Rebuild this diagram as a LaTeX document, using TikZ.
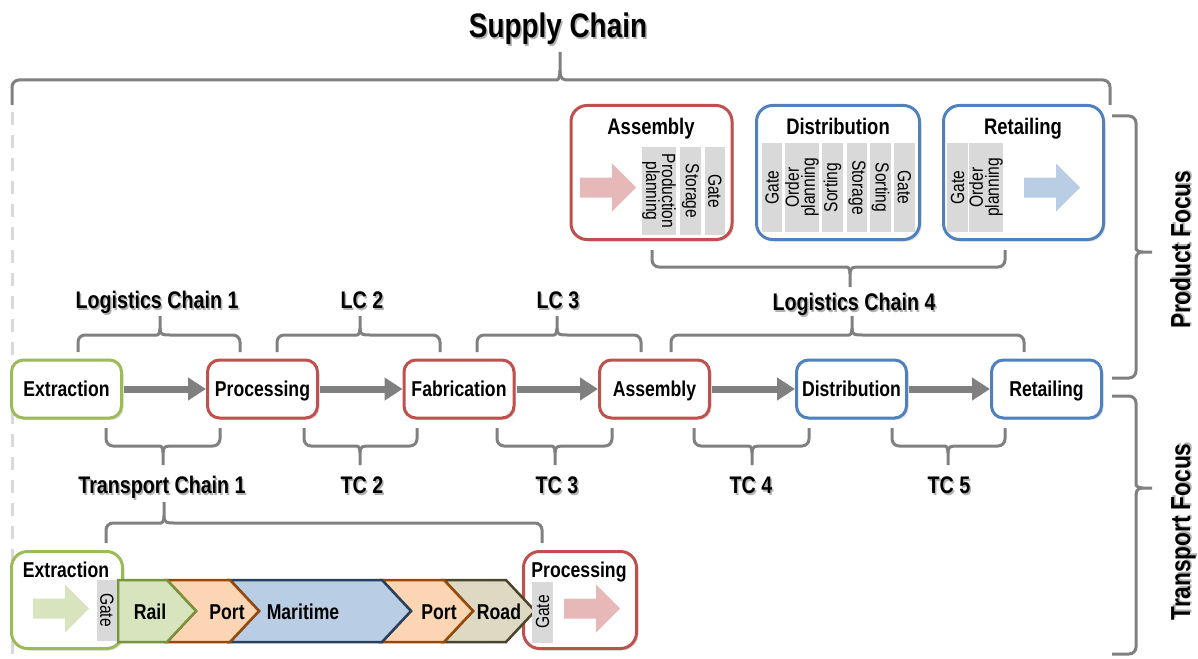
\documentclass[tikz,border=0pt]{standalone}
\usepackage{fontspec}
\setmainfont{Liberation Sans}[FakeStretch=0.82]
\usetikzlibrary{arrows.meta,shadows}

\definecolor{redline}{HTML}{C0504D}
\definecolor{greenline}{HTML}{9BBB59}
\definecolor{blueline}{HTML}{4F81BD}
\definecolor{stripgray}{HTML}{D9D9D9}
\definecolor{bracegray}{HTML}{808080}
\definecolor{pinkfill}{HTML}{E6B9B8}
\definecolor{greenfill}{HTML}{D7E4BD}
\definecolor{bluefill}{HTML}{B9CDE5}
\definecolor{railline}{HTML}{77933C}
\definecolor{portfill}{HTML}{FCD5B5}
\definecolor{portline}{HTML}{984807}
\definecolor{sealine}{HTML}{254061}
\definecolor{roadfill}{HTML}{DDD9C3}
\definecolor{roadline}{HTML}{4A452A}

\tikzset{
  boxshadow/.style={drop shadow={opacity=0.25,shadow xshift=2pt,shadow yshift=-2pt}},
  stage/.style={draw,line width=3pt,fill=white,rounded corners=12pt,
    minimum width=110pt,minimum height=58pt,boxshadow,
    text height=15.5pt,text depth=0pt,
    font=\fontsize{21.5}{24}\selectfont\bfseries},
  panel/.style={draw,line width=3pt,fill=white,rounded corners=16pt,boxshadow},
  boxtitle/.style={inner sep=0pt,text height=16pt,text depth=0pt,
    font=\fontsize{22.5}{24}\selectfont\bfseries},
  strip/.style={fill=stripgray,inner sep=0pt,align=center,
    font=\fontsize{19}{16}\selectfont},
  chainlbl/.style={inner sep=0pt,text height=17pt,text depth=0pt,
    font=\fontsize{24}{26}\selectfont\bfseries},
  focuslbl/.style={chainlbl,rotate=90,text height=20pt,
    font=\fontsize{27.5}{30}\selectfont\bfseries},
  brace/.style={draw=bracegray,line width=3pt},
  flow/.style={draw=bracegray,line width=7pt,shorten <=1pt,
    -{Triangle[length=18pt,width=22pt]}},
  leg/.style={line width=2.5pt,line join=miter},
}

% squared brace: left x, right x, tip x, end y, line y, tip y
\newcommand{\chainbrace}[6]{%
  \draw[brace] (#1,#4) [rounded corners=7pt] -- (#1,#5) -- (#3-10,#5) [sharp corners]
    .. controls (#3-3,#5) and (#3,#5) .. (#3,{#5+0.35*(#6-#5)}) -- (#3,#6);
  \draw[brace] (#3,{#5+0.35*(#6-#5)}) .. controls (#3,#5) and (#3+3,#5) .. (#3+10,#5)
    [rounded corners=7pt] -- (#2,#5) -- (#2,#4);}

% label with a soft shadow
\newcommand{\chainlabel}[3]{%
  \node[chainlbl,black!30,xshift=1.5pt,yshift=-1.5pt] (#1-sh) at (#2) {#3};
  \node[chainlbl] (#1) at (#2) {#3};}

% block arrow: tail x, middle y, colour
\newcommand{\blockarrow}[3]{%
  \fill[#3] (#1,#2-10) -- (#1+32,#2-10) -- (#1+32,#2-24) -- (#1+56,#2)
    -- (#1+32,#2+24) -- (#1+32,#2+10) -- (#1,#2+10) -- cycle;}

\begin{document}
\begin{tikzpicture}[x=1pt,y=-1pt]
  \fill[white] (0,0) rectangle (1198,658);
  \useasboundingbox (0,0) rectangle (1198,658);

  % supply chain frame
  \draw[stripgray,line width=3pt,dash pattern=on 13pt off 10pt] (12,112) -- (12,658);
  \chainbrace{12}{1110}{560}{105}{80}{52}
  \node[chainlbl,black!30,xshift=1.5pt,yshift=-1.5pt,text height=24pt,font=\fontsize{34}{36}\selectfont\bfseries] (supply-sh) at (558,26) {Supply Chain};
  \node[chainlbl,text height=24pt,font=\fontsize{34}{36}\selectfont\bfseries] (supply) at (558,26) {Supply Chain};

  % focus braces
  \draw[brace] (1112,116) [rounded corners=7pt] -- (1136,116) -- (1136,242) [sharp corners]
    .. controls (1136,248) and (1136,252) .. (1143,252) -- (1152,252);
  \draw[brace] (1143,252) .. controls (1136,252) and (1136,256) .. (1136,262)
    [rounded corners=7pt] -- (1136,378) -- (1112,378);
  \draw[brace] (1112,396) [rounded corners=7pt] -- (1136,396) -- (1136,478) [sharp corners]
    .. controls (1136,484) and (1136,488) .. (1143,488) -- (1152,488);
  \draw[brace] (1143,488) .. controls (1136,488) and (1136,492) .. (1136,498)
    [rounded corners=7pt] -- (1136,654) -- (1112,654);
  \node[focuslbl,black!30,xshift=1.5pt,yshift=-1.5pt] (prodfocus-sh) at (1180,250) {Product Focus};
  \node[focuslbl] (prodfocus) at (1180,250) {Product Focus};
  \node[focuslbl,black!30,xshift=1.5pt,yshift=-1.5pt] (tranfocus-sh) at (1180,532) {Transport Focus};
  \node[focuslbl] (tranfocus) at (1180,532) {Transport Focus};

  % product focus panels
  \node[panel,draw=redline,minimum width=161pt,minimum height=134pt] (pasm) at (651.5,172.5) {};
  \node[panel,draw=blueline,minimum width=163pt,minimum height=134pt] (pdist) at (838,172.5) {};
  \node[panel,draw=blueline,minimum width=160pt,minimum height=134pt] (pret) at (1023.5,172.5) {};
  \node[boxtitle] (pasmT) at (651,127) {Assembly};
  \node[boxtitle] (pdistT) at (838,127) {Distribution};
  \node[boxtitle] (pretT) at (1023,127) {Retailing};

  \blockarrow{580}{187.5}{pinkfill}
  \node[strip,rotate=-90,minimum width=88pt,minimum height=32pt] (aPlan) at (659,191) {Production\\planning};
  \node[strip,rotate=-90,minimum width=88pt,minimum height=21pt] (aStor) at (690.5,191) {Storage};
  \node[strip,rotate=-90,minimum width=88pt,minimum height=20pt] (aGate) at (715,191) {Gate};

  \node[strip,rotate=90,minimum width=89pt,minimum height=20pt] (dGate) at (772,187.5) {Gate};
  \node[strip,rotate=90,minimum width=89pt,minimum height=32pt] (dOrd) at (802,187.5) {Order\\planning};
  \node[strip,rotate=90,minimum width=89pt,minimum height=21pt] (dSortA) at (832.5,187.5) {Sorting};
  \node[strip,rotate=-90,minimum width=89pt,minimum height=20pt] (dStor) at (857,187.5) {Storage};
  \node[strip,rotate=-90,minimum width=89pt,minimum height=21pt] (dSortB) at (880.5,187.5) {Sorting};
  \node[strip,rotate=-90,minimum width=89pt,minimum height=21pt] (dGateB) at (904.5,187.5) {Gate};

  \node[strip,rotate=90,minimum width=89pt,minimum height=21pt] (rGate) at (957.5,187.5) {Gate};
  \node[strip,rotate=90,minimum width=89pt,minimum height=30pt] (rOrd) at (986,187.5) {Order\\planning};
  \blockarrow{1024}{187.5}{bluefill}

  % logistics chains
  \chainbrace{652}{1005}{850}{250}{267}{287}
  \chainlabel{lc4}{854,302}{Logistics Chain 4}
  \chainbrace{78}{240}{160}{352}{335}{316}
  \chainbrace{277}{440}{360}{352}{335}{316}
  \chainbrace{477}{641}{557}{352}{335}{316}
  \chainbrace{671}{1024}{852}{352}{335}{316}
  \chainlabel{lc1}{157,300}{Logistics Chain 1}
  \chainlabel{lc2}{362,300}{LC 2}
  \chainlabel{lc3}{558,300}{LC 3}

  % stages
  \node[stage,draw=greenline] (ext) at (66.5,389) {Extraction};
  \node[stage,draw=redline] (proc) at (262.5,389) {Processing};
  \node[stage,draw=redline] (fab) at (459,389) {Fabrication};
  \node[stage,draw=redline] (asm) at (654.5,389) {Assembly};
  \node[stage,draw=blueline] (dist) at (851.5,389) {Distribution};
  \node[stage,draw=blueline] (ret) at (1046.5,389) {Retailing};
  \draw[flow] (ext) -- (proc);
  \draw[flow] (proc) -- (fab);
  \draw[flow] (fab) -- (asm);
  \draw[flow] (asm) -- (dist);
  \draw[flow] (dist) -- (ret);

  % transport chains
  \chainbrace{106}{220}{163}{428}{446}{465}
  \chainbrace{304}{417}{360}{428}{446}{465}
  \chainbrace{497}{612}{555}{428}{446}{465}
  \chainbrace{694}{809}{752}{428}{446}{465}
  \chainbrace{892}{1005}{948}{428}{446}{465}
  \chainlabel{tc1}{162,485}{Transport Chain 1}
  \chainlabel{tc2}{362,485}{TC 2}
  \chainlabel{tc3}{557,485}{TC 3}
  \chainlabel{tc4}{751,485}{TC 4}
  \chainlabel{tc5}{949,485}{TC 5}
  \chainbrace{106}{542}{164}{543}{523}{502}

  % transport chain 1 in detail
  \node[panel,draw=greenline,minimum width=111pt,minimum height=97pt] (bext) at (67,600) {};
  \node[panel,draw=redline,minimum width=113pt,minimum height=97pt] (bproc) at (580,600) {};
  \node[boxtitle,font=\fontsize{21.5}{24}\selectfont\bfseries] (bextT) at (66,569) {Extraction};
  \node[boxtitle,font=\fontsize{21.5}{24}\selectfont\bfseries] (bprocT) at (579,569) {Processing};
  \blockarrow{33}{608.5}{greenfill}
  \blockarrow{564}{608.5}{pinkfill}

  \filldraw[leg,fill=roadfill,draw=roadline] (444,580) -- (506,580) -- (535,611) -- (506,642) -- (444,642) -- (473,611) -- cycle;
  \filldraw[leg,fill=portfill,draw=portline] (382,580) -- (444,580) -- (473,611) -- (444,642) -- (382,642) -- (411,611) -- cycle;
  \filldraw[leg,fill=bluefill,draw=sealine] (230,580) -- (382,580) -- (411,611) -- (382,642) -- (230,642) -- (259,611) -- cycle;
  \filldraw[leg,fill=portfill,draw=portline] (167,580) -- (230,580) -- (259,611) -- (230,642) -- (167,642) -- (196,611) -- cycle;
  \filldraw[leg,fill=greenfill,draw=railline] (118,580) -- (167,580) -- (196,611) -- (167,642) -- (118,642) -- cycle;
  \node[boxtitle,font=\fontsize{21.5}{24}\selectfont\bfseries] (rail) at (150,611) {Rail};
  \node[boxtitle,font=\fontsize{21.5}{24}\selectfont\bfseries] (portA) at (227,611) {Port};
  \node[boxtitle,font=\fontsize{21.5}{24}\selectfont\bfseries] (sea) at (303,611) {Maritime};
  \node[boxtitle,font=\fontsize{21.5}{24}\selectfont\bfseries] (portB) at (439,611) {Port};
  \node[boxtitle,font=\fontsize{21.5}{24}\selectfont\bfseries] (road) at (499,611) {Road};

  \node[strip,rotate=-90,minimum width=61pt,minimum height=20pt] (bextGate) at (107,610) {Gate};
  \node[strip,rotate=90,minimum width=61pt,minimum height=21pt] (bprocGate) at (542.5,612) {Gate};
\end{tikzpicture}
\end{document}
